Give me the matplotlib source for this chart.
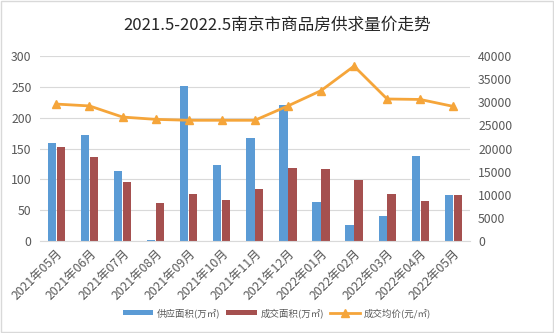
import numpy as np
import matplotlib
matplotlib.use("Agg")
import matplotlib.pyplot as plt
import matplotlib.transforms as mtransforms
from matplotlib.patches import Rectangle

plt.rcParams['font.family'] = ['Noto Sans CJK SC', 'DejaVu Sans']

# dados
meses = ["2021年05月", "2021年06月", "2021年07月", "2021年08月", "2021年09月",
         "2021年10月", "2021年11月", "2021年12月", "2022年01月", "2022年02月",
         "2022年03月", "2022年04月", "2022年05月"]
oferta = [159, 172, 113, 2, 252, 124, 167, 220, 64, 26, 40, 138, 74]
vendas = [153, 136, 96, 61, 76, 67, 85, 119, 117, 99, 76, 65, 74]
preco = [29600, 29200, 26800, 26300, 26100, 26100, 26100, 29200, 32500, 37800, 30700, 30600, 29100]

cinza = "#595959"
azul = "#5B9BD5"
vermelho = "#A5504F"
laranja = "#F5A53A"

fig = plt.figure(figsize=(5.54, 3.33), dpi=100)
ax = fig.add_axes([0.072, 0.276, 0.776, 0.556])
ax2 = ax.twinx()

x = np.arange(len(meses))
w = 0.25
b1 = ax.bar(x - 0.135, oferta, width=w, color=azul, label="供应面积(万㎡)", zorder=2)
b2 = ax.bar(x + 0.135, vendas, width=w, color=vermelho, label="成交面积(万㎡)", zorder=2)
l1, = ax2.plot(x, preco, color=laranja, linewidth=2, marker="^", markersize=6,
               label="成交均价(元/㎡)")

ax.set_ylim(0, 300)
ax.set_yticks(range(0, 301, 50))
ax2.set_ylim(0, 40000)
ax2.set_yticks(range(0, 40001, 5000))
ax.set_xlim(-0.5, len(meses) - 0.5)
ax.set_xticks(x)
ax.set_xticklabels(meses, rotation=45, ha="right", rotation_mode="anchor",
                   fontsize=6.6, color=cinza)

# desloca os rótulos do eixo x um pouco para a direita
offset = mtransforms.ScaledTranslation(4 / 100, 0, fig.dpi_scale_trans)
for lbl in ax.get_xticklabels():
    lbl.set_transform(lbl.get_transform() + offset)

ax.grid(axis="y", color="#D9D9D9", linewidth=0.8, zorder=0)
ax.set_axisbelow(True)
for a in (ax, ax2):
    for s in a.spines.values():
        s.set_visible(False)
    a.tick_params(length=0, labelsize=8.8, labelcolor=cinza, pad=6)
ax.spines["bottom"].set_visible(True)
ax.spines["bottom"].set_color("#D9D9D9")
ax.tick_params(axis="x", pad=4)

fig.suptitle("2021.5-2022.5南京市商品房供求量价走势", y=0.95, fontsize=12,
             color="#262626", fontweight="medium")

fig.legend(handles=[b1, b2, l1], loc="center", bbox_to_anchor=(0.5, 0.06), ncol=3,
           frameon=False, fontsize=6.8, labelcolor=cinza, handlelength=3.2,
           handleheight=0.5, handletextpad=0.4, columnspacing=0.6)

fig.patches.append(Rectangle((0.002, 0.003), 0.996, 0.994, transform=fig.transFigure,
                             fill=False, edgecolor="#D9D9D9", linewidth=1))

plt.savefig("out.png", dpi=100)
plt.close()
